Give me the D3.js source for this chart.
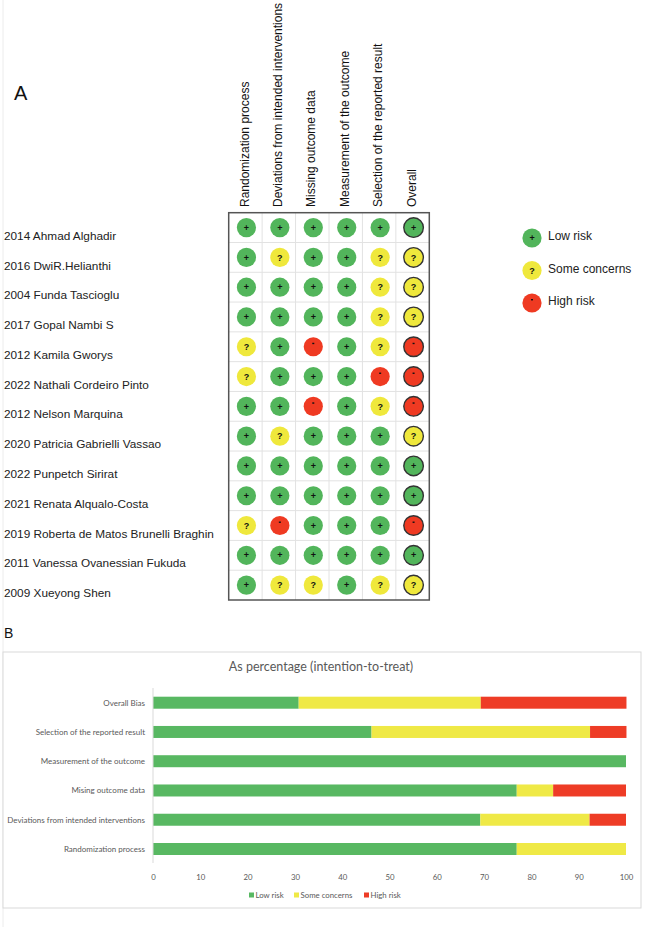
<!DOCTYPE html>
<html>
<head>
<meta charset="utf-8">
<script src="https://cdn.jsdelivr.net/npm/d3@7"></script>
<style>
  html, body { margin: 0; padding: 0; background: #fff; }
  svg { display: block; }
</style>
</head>
<body>
<div id="chart"></div>
<script>
// ---------- DATA ----------
const studies = [
  "2014 Ahmad Alghadir",
  "2016 DwiR.Helianthi",
  "2004 Funda Tascioglu",
  "2017 Gopal Nambi S",
  "2012 Kamila Gworys",
  "2022 Nathali Cordeiro Pinto",
  "2012 Nelson Marquina",
  "2020 Patricia Gabrielli Vassao",
  "2022 Punpetch Sirirat",
  "2021 Renata Alqualo-Costa",
  "2019 Roberta de Matos Brunelli Braghin",
  "2011 Vanessa Ovanessian Fukuda",
  "2009 Xueyong Shen"
];
const domains = [
  "Randomization process",
  "Deviations from intended interventions",
  "Missing outcome data",
  "Measurement of the outcome",
  "Selection of the reported result",
  "Overall"
];
// judgments per domain, in study order ("+" low, "?" some concerns, "-" high)
const randomization = ["+","+","+","+","?","?","+","+","+","+","?","+","+"];
const deviations    = ["+","?","+","+","+","+","+","?","+","+","-","+","?"];
const missingData   = ["+","+","+","+","-","+","-","+","+","+","+","+","?"];
const measurement   = ["+","+","+","+","+","+","+","+","+","+","+","+","+"];
const selection     = ["+","?","?","?","?","-","?","+","+","+","+","+","?"];
const overall       = ["+","?","?","?","-","-","-","?","+","+","-","+","?"];
const legendA = ["Low risk", "Some concerns", "High risk"];
const legendCodes = ["+", "?", "-"];

// Panel B
const barCategories = [
  "Overall Bias",
  "Selection of the reported result",
  "Measurement of the outcome",
  "Mising outcome data",
  "Deviations from intended interventions",
  "Randomization process"
];
const lowRisk      = [30.8, 46.2, 100, 76.9, 69.2, 76.9];
const someConcerns = [38.5, 46.2, 0, 7.7, 23.1, 23.1];
const highRisk     = [30.8, 7.7, 0, 15.4, 7.7, 0];
const xTicks = [0,10,20,30,40,50,60,70,80,90,100];
const seriesNames = ["Low risk", "Some concerns", "High risk"];
const chartTitle = "As percentage (intention-to-treat)";

// ---------- STYLE ----------
const W = 646, H = 927;
const fillA = { "+": "#52b55b", "?": "#efe83c", "-": "#ef3a22" };
const fillB = ["#58b862", "#efe946", "#ee3c26"];
const sans = "'Liberation Sans', Arial, sans-serif";
const calib = "Lato, 'Open Sans', sans-serif";

const svg = d3.select("#chart").append("svg")
  .attr("width", W).attr("height", H)
  .attr("viewBox", `0 0 ${W} ${H}`);

// faint page edge line
svg.append("line").attr("x1", 3).attr("x2", 3).attr("y1", 0).attr("y2", H)
  .attr("stroke", "#ececec").attr("stroke-width", 1);

// ---------- PANEL A ----------
svg.append("text").attr("x", 14).attr("y", 100)
  .attr("font-family", sans).attr("font-size", 20).attr("fill", "#111").text("A");

const cols = [randomization, deviations, missingData, measurement, selection, overall];
const xA = d3.scaleBand().domain(domains).range([228.7, 429.3]);
const yA = d3.scaleBand().domain(studies).range([212.7, 600]);

const gA = svg.append("g");

// grid lines
gA.selectAll("line.v").data(domains.slice(1)).join("line")
  .attr("x1", d => xA(d)).attr("x2", d => xA(d))
  .attr("y1", yA.range()[0]).attr("y2", yA.range()[1])
  .attr("stroke", "#e2e2e2").attr("stroke-width", 1);
gA.selectAll("line.h").data(studies.slice(1)).join("line")
  .attr("x1", xA.range()[0]).attr("x2", xA.range()[1])
  .attr("y1", d => yA(d)).attr("y2", d => yA(d))
  .attr("stroke", "#e2e2e2").attr("stroke-width", 1);

// border
gA.append("rect")
  .attr("x", xA.range()[0]).attr("y", yA.range()[0])
  .attr("width", xA.range()[1] - xA.range()[0])
  .attr("height", yA.range()[1] - yA.range()[0])
  .attr("fill", "none").attr("stroke", "#555").attr("stroke-width", 1.5);

// headers
gA.selectAll("text.hdr").data(domains).join("text")
  .attr("transform", d => `translate(${xA(d) + xA.bandwidth() / 2 - 1},207) rotate(-90)`)
  .attr("dy", "0.35em")
  .attr("font-family", sans).attr("font-size", 12).attr("fill", "#111")
  .text(d => d);

// study labels
gA.selectAll("text.study").data(studies).join("text")
  .attr("x", 4).attr("y", d => yA(d) + yA.bandwidth() / 2 + 8)
  .attr("dy", "0.35em")
  .attr("font-family", sans).attr("font-size", 11.8).attr("fill", "#222")
  .text(d => d);

// cells
const cells = [];
cols.forEach((col, ci) => col.forEach((v, si) => cells.push({ d: domains[ci], s: studies[si], v, overall: ci === cols.length - 1 })));

function symbol(g, v, fs) {
  if (v === "-") {
    g.append("rect").attr("x", -1).attr("y", -4).attr("width", 2).attr("height", 1.4).attr("fill", "#111");
  } else {
    g.append("text").attr("text-anchor", "middle").attr("dy", "0.35em")
      .attr("font-family", sans).attr("font-weight", "bold").attr("font-size", fs)
      .attr("fill", "#111").text(v);
  }
}

const cg = gA.selectAll("g.cell").data(cells).join("g")
  .attr("transform", d => `translate(${xA(d.d) + xA.bandwidth() / 2 + 1},${yA(d.s) + yA.bandwidth() / 2})`);
cg.each(function (d) {
  const g = d3.select(this);
  g.append("circle").attr("r", d.overall ? 9.8 : 9.6)
    .attr("fill", fillA[d.v])
    .attr("stroke", d.overall ? "#333" : "none").attr("stroke-width", 1.4);
  symbol(g, d.v, 9);
});

// legend A
const lgA = svg.append("g").selectAll("g").data(legendA).join("g")
  .attr("transform", (d, i) => `translate(532,${238 + i * 32.5})`);
lgA.append("circle").attr("r", 9.6).attr("fill", (d, i) => fillA[legendCodes[i]]);
lgA.each(function (d, i) { symbol(d3.select(this), legendCodes[i], 9); });
lgA.append("text").attr("x", 16).attr("y", -2).attr("dy", "0.35em")
  .attr("font-family", sans).attr("font-size", 12).attr("fill", "#222").text(d => d);

// ---------- PANEL B ----------
svg.append("text").attr("x", 4).attr("y", 638)
  .attr("font-family", sans).attr("font-size", 14).attr("fill", "#111").text("B");

svg.append("rect").attr("x", 3).attr("y", 652).attr("width", 638).attr("height", 256)
  .attr("fill", "#fff").attr("stroke", "#d9d9d9").attr("stroke-width", 1);

svg.append("text").attr("x", 321).attr("y", 667).attr("dy", "0.35em")
  .attr("text-anchor", "middle").attr("font-family", calib).attr("font-size", 12.5)
  .attr("fill", "#595959").text(chartTitle);

const xB = d3.scaleLinear().domain([0, 100]).range([153, 626]);
const yB = d3.scalePoint().domain(barCategories).range([702.7, 849]);
const barH = 12;

const tableB = barCategories.map((c, i) => ({ cat: c, "Low risk": lowRisk[i], "Some concerns": someConcerns[i], "High risk": highRisk[i] }));
const stacked = d3.stack().keys(seriesNames)(tableB);

svg.append("g").selectAll("g").data(stacked).join("g")
  .attr("fill", (d, i) => fillB[i])
  .selectAll("rect").data(d => d.filter(p => p[1] - p[0] > 0)).join("rect")
  .attr("x", p => xB(p[0])).attr("width", p => xB(p[1]) - xB(p[0]))
  .attr("y", p => yB(p.data.cat) - barH / 2).attr("height", barH);

// y axis line
svg.append("line").attr("x1", xB(0)).attr("x2", xB(0)).attr("y1", 688).attr("y2", 863)
  .attr("stroke", "#d9d9d9").attr("stroke-width", 1);

// category labels
svg.append("g").selectAll("text").data(barCategories).join("text")
  .attr("x", 145).attr("y", d => yB(d)).attr("dy", "0.35em").attr("text-anchor", "end")
  .attr("font-family", calib).attr("font-size", 8).attr("fill", "#595959").text(d => d);

// x axis
const axB = svg.append("g").attr("transform", "translate(0,870)")
  .call(d3.axisBottom(xB).tickValues(xTicks).tickSize(0).tickPadding(4).tickFormat(d3.format("d")));
axB.select(".domain").remove();
axB.selectAll("text").attr("font-family", calib).attr("font-size", 7.8).attr("fill", "#595959");

// legend B
const lgBx = [249, 294, 364];
const lgB = svg.append("g").selectAll("g").data(seriesNames).join("g")
  .attr("transform", (d, i) => `translate(${lgBx[i]},895)`);
lgB.append("rect").attr("x", 0).attr("y", -2.5).attr("width", 5).attr("height", 5).attr("fill", (d, i) => fillB[i]);
lgB.append("text").attr("x", 6.5).attr("dy", "0.35em")
  .attr("font-family", calib).attr("font-size", 7.8).attr("fill", "#595959").text(d => d);
</script>
</body>
</html>
